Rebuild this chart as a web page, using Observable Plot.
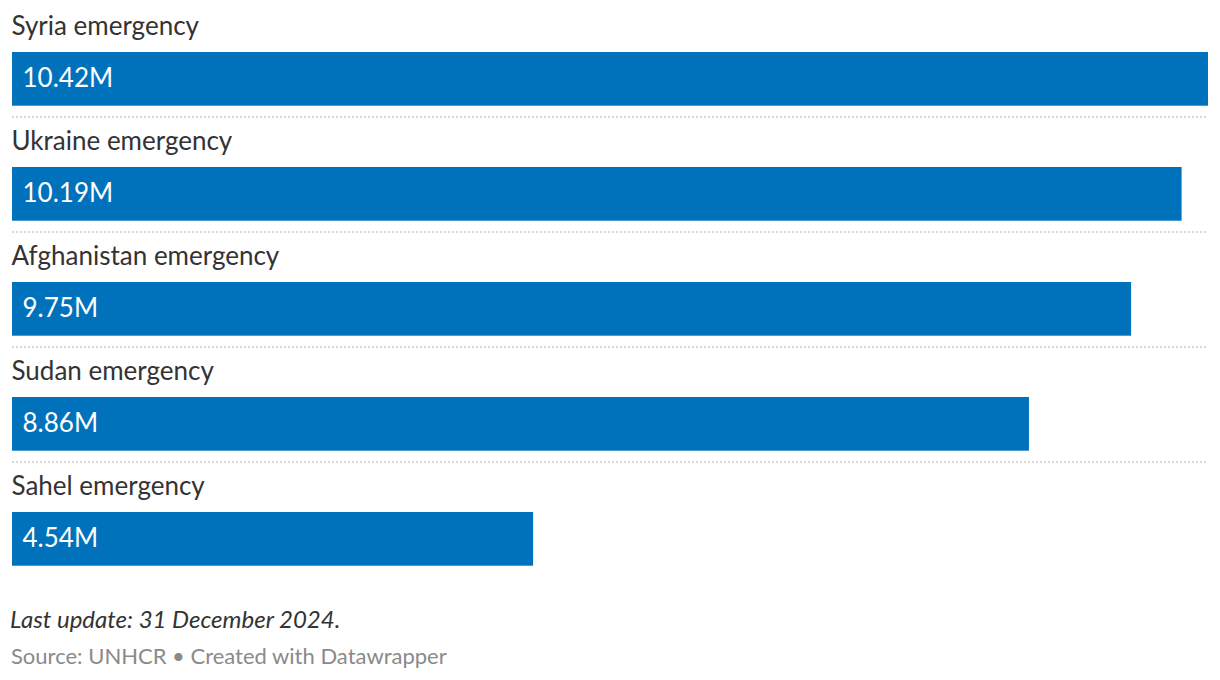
<!DOCTYPE html>
<html>
<head>
<meta charset="utf-8">
<script src="https://cdn.jsdelivr.net/npm/d3@7"></script>
<script src="https://cdn.jsdelivr.net/npm/@observablehq/plot@0.6"></script>
<style>
  html, body { margin: 0; padding: 0; background: #fff; }
  body { font-family: Lato, "Open Sans", sans-serif; width: 1220px; }
  #chart svg { display: block; }
  .note { font-style: italic; font-size: 24px; color: #333; margin: 0 0 0 10px; line-height: 1; position: absolute; left: 0; top: 607px; }
  .source { font-size: 22px; color: #8a8a8a; margin: 0 0 0 11px; line-height: 1; position: absolute; left: 0; top: 645px; }
</style>
</head>
<body>
<div id="chart"></div>
<div class="note">Last update: 31 December 2024.</div>
<div class="source">Source: UNHCR • Created with Datawrapper</div>
<script>
const categories = ["Syria emergency", "Ukraine emergency", "Afghanistan emergency", "Sudan emergency", "Sahel emergency"];
const values = [10.42, 10.19, 9.75, 8.86, 4.54];
const valueLabels = ["10.42M", "10.19M", "9.75M", "8.86M", "4.54M"];

const data = categories.map((c, i) => ({name: c, value: values[i], label: valueLabels[i], last: i === categories.length - 1}));

const chart = Plot.plot({
  width: 1220,
  height: 580,
  marginLeft: 12,
  marginRight: 12,
  marginTop: 0,
  marginBottom: 5,
  style: {fontFamily: "Lato, sans-serif", background: "#fff"},
  x: {domain: [0, d3.max(values)], axis: null},
  y: {domain: categories, range: [0, 575], padding: 0, axis: null},
  marks: [
    Plot.ruleY(data.filter(d => !d.last), {y: "name", dy: 59, stroke: "#cccccc", strokeWidth: 1.5, strokeDasharray: "2,2"}),
    Plot.barX(data, {y: "name", x: "value", fill: "#0072bc", insetTop: 52, insetBottom: 9.3}),
    Plot.text(data, {y: "name", text: "name", frameAnchor: "left", textAnchor: "start", lineAnchor: "bottom", dy: -23.5, dx: -1, fontSize: 26, fill: "#333"}),
    Plot.text(data, {y: "name", text: "label", frameAnchor: "left", textAnchor: "start", lineAnchor: "bottom", dy: 28.5, dx: 10, fontSize: 26, fill: "#fff"})
  ]
});
document.getElementById("chart").appendChild(chart);
</script>
</body>
</html>
